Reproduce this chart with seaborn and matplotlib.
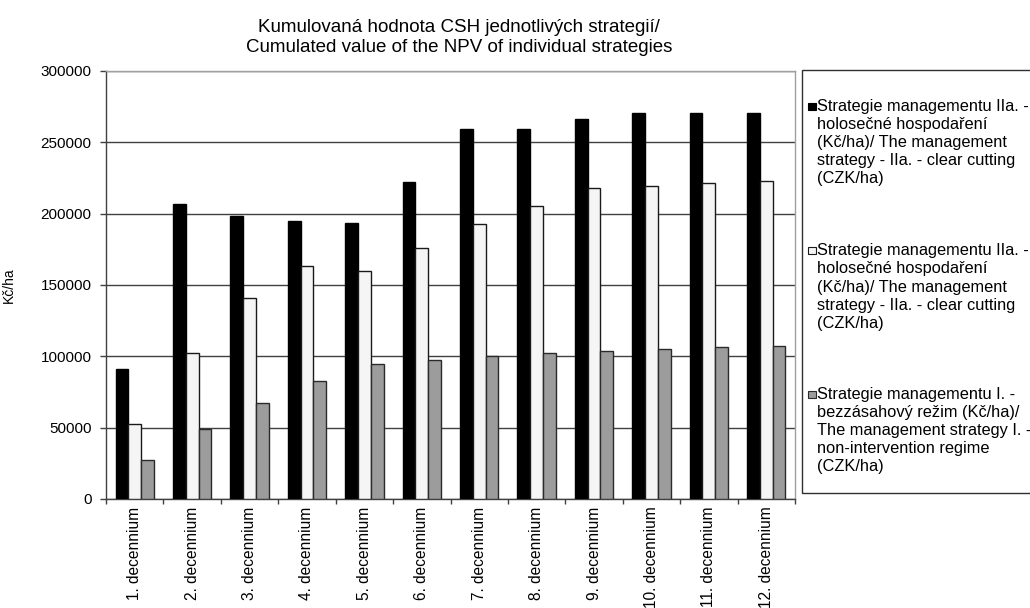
import matplotlib
matplotlib.use("Agg")
import matplotlib.pyplot as plt
import seaborn as sns
import pandas as pd
from matplotlib.patches import Rectangle

# --- data -------------------------------------------------------------------
decades = ["1. decennium", "2. decennium", "3. decennium", "4. decennium",
           "5. decennium", "6. decennium", "7. decennium", "8. decennium",
           "9. decennium", "10. decennium", "11. decennium", "12. decennium"]

strategy_2a_black = [91000, 206500, 198500, 195000, 193300, 222500,
                     259200, 259200, 266700, 270400, 270400, 270400]
strategy_2a_white = [52400, 102200, 140900, 163400, 160100, 176200,
                     192600, 205400, 217800, 219200, 221800, 222700]
strategy_1_grey = [27100, 49300, 67500, 82500, 94700, 97700,
                   100500, 102200, 104000, 105400, 106600, 107300]

series_keys = ["IIa (1)", "IIa (2)", "I"]
series_labels = [
    "Strategie managementu IIa. -\nholosečné hospodaření\n(Kč/ha)/ The management\n"
    "strategy - IIa. - clear cutting\n(CZK/ha)",
    "Strategie managementu IIa. -\nholosečné hospodaření\n(Kč/ha)/ The management\n"
    "strategy - IIa. - clear cutting\n(CZK/ha)",
    "Strategie managementu I. -\nbezzásahový režim (Kč/ha)/\nThe management strategy I. -\n"
    "non-intervention regime\n(CZK/ha)",
]
y_ticks = [0, 50000, 100000, 150000, 200000, 250000, 300000]

title_lines = ["Kumulovaná hodnota CSH jednotlivých strategií/",
               "Cumulated value of the NPV of individual strategies"]
y_label = "Kč/ha"

# --- styling ----------------------------------------------------------------
fills = ["#000000", "#f5f5f5", "#9c9c9c"]
edges = ["#000000", "#1a1a1a", "#2a2a2a"]

sns.set_theme(style="white")
plt.rcParams["font.family"] = ["Liberation Sans", "DejaVu Sans"]

W, H = 1030, 608
fig = plt.figure(figsize=(W / 100, H / 100), dpi=100)
ax_l, ax_r, ax_t, ax_b = 106, 795, 71, 499
ax = fig.add_axes([ax_l / W, 1 - ax_b / H, (ax_r - ax_l) / W, (ax_b - ax_t) / H])

df = pd.DataFrame({
    "decade": decades * 3,
    "value": strategy_2a_black + strategy_2a_white + strategy_1_grey,
    "series": [series_keys[0]] * 12 + [series_keys[1]] * 12 + [series_keys[2]] * 12,
})

sns.barplot(data=df, x="decade", y="value", hue="series", hue_order=series_keys,
            order=decades, palette=dict(zip(series_keys, fills)), width=0.667,
            errorbar=None, legend=False, saturation=1, ax=ax, zorder=3)
for cont, ec in zip(ax.containers, edges):
    for bar in cont:
        bar.set_edgecolor(ec)
        bar.set_linewidth(1.0)

ax.set_xlim(-0.5, len(decades) - 0.5)
ax.set_ylim(0, 300000)
ax.set_yticks(y_ticks)
ax.set_yticklabels([str(v) for v in y_ticks])
ax.set_xlabel("")
ax.set_ylabel(y_label, fontsize=10, color="black")
ax.yaxis.set_label_coords(-(ax_l - 16) / (ax_r - ax_l), 0.5)

ax.set_axisbelow(True)
ax.yaxis.grid(True, color="#404040", linewidth=1.0)
ax.xaxis.grid(False)

ax.tick_params(axis="y", which="major", direction="out", length=4.5, width=1,
               color="#404040", labelsize=11, labelcolor="black", pad=6, left=True)
ax.tick_params(axis="x", which="major", length=0, labelsize=11.2,
               labelcolor="black", pad=5.5, labelrotation=90)
ax.set_xticks([i - 0.5 for i in range(len(decades) + 1)], minor=True)
ax.tick_params(axis="x", which="minor", direction="out", length=3.6, width=1,
               color="#404040", bottom=True)

for side in ("left", "bottom"):
    ax.spines[side].set_color("#404040")
    ax.spines[side].set_linewidth(1.0)
for side in ("top", "right"):
    ax.spines[side].set_color("#a0a0a0")
    ax.spines[side].set_linewidth(1.0)

# --- title ------------------------------------------------------------------
title_x = 459
for line, base in zip(title_lines, (32.5, 51.7)):
    fig.text(title_x / W, 1 - base / H, line, ha="center", va="baseline",
             fontsize=13.5, color="black")

# --- legend box -------------------------------------------------------------
box_l, box_t, box_b = 801.5, 70, 493
fig.add_artist(Rectangle((box_l / W, 1 - box_b / H), 1.0, (box_b - box_t) / H,
                         transform=fig.transFigure, facecolor="white",
                         edgecolor="#303030", linewidth=1.0, clip_on=False))

entry_baselines = [110.5, 255.2, 398.5]
line_step = 18.2
for label, fc, ec, base in zip(series_labels, fills, edges, entry_baselines):
    fig.add_artist(Rectangle((808 / W, 1 - (base - 1) / H), 7.5 / W, 7 / H,
                             transform=fig.transFigure, facecolor=fc,
                             edgecolor=ec, linewidth=0.8, clip_on=False))
    for k, line in enumerate(label.split("\n")):
        fig.text(817 / W, 1 - (base + k * line_step) / H, line, ha="left",
                 va="baseline", fontsize=11.8, color="black")

fig.savefig("out.png", dpi=100)
